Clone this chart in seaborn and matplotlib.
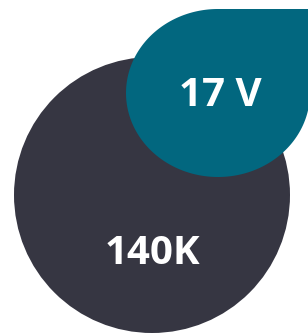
import numpy as np
import matplotlib.pyplot as plt
import seaborn as sns
from matplotlib.patches import Circle, Polygon

# values shown in the two bubbles
labels = ["140K", "17 V"]
colors = ["#363642", "#02677f"]

sns.set_style("white")
plt.rcParams['font.family'] = ['Open Sans', 'DejaVu Sans']

fig = plt.figure(figsize=(3.08, 3.35), dpi=100)
ax = fig.add_axes([0, 0, 1, 1])
ax.set_xlim(0, 308)
ax.set_ylim(335, 0)
ax.set_aspect('equal')
ax.axis('off')

# big dark circle
ax.add_patch(Circle((152, 195), 138, color=colors[0], lw=0))

# teal drop: ellipse with a square top-right corner
cx, cy, rx, ry = 218, 93, 92, 84
t = np.radians(np.linspace(0, 270, 200))
pts = np.column_stack([cx + rx * np.cos(t), cy + ry * np.sin(t)])
pts = np.vstack([pts, [cx + rx, cy - ry]])
ax.add_patch(Polygon(pts, closed=True, color=colors[1], lw=0))

ax.text(152, 253, labels[0], color='white', fontsize=29, fontweight='bold',
        ha='center', va='center')
ax.text(220, 95, labels[1], color='white', fontsize=29, fontweight='bold',
        ha='center', va='center')

fig.savefig('out.png', dpi=100)
